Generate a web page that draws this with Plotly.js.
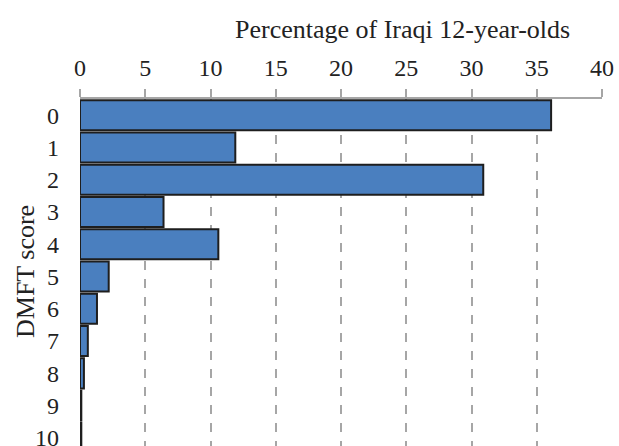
<!DOCTYPE html>
<html><head><meta charset="utf-8">
<script src="https://cdn.plot.ly/plotly-3.0.1.min.js"></script>
<style>html,body{margin:0;padding:0;background:#fff;}#c{width:619px;height:446px;}</style>
</head><body><div id="c"></div>
<script>
const categories = ["0","1","2","3","4","5","6","7","8","9","10"];
const percentages = [36.1, 11.9, 30.9, 6.4, 10.6, 2.2, 1.3, 0.6, 0.3, 0.1, 0.1];
const xTicks = [0,5,10,15,20,25,30,35,40];

const fam = "'Liberation Serif', 'Times New Roman', Times, serif";
const font = {family: fam, size: 24, color: "#222"};
const tfont = {family: fam, size: 26, color: "#222"};
Plotly.newPlot("c", [{
  type: "bar", orientation: "h",
  x: percentages, y: categories.map(Number),
  marker: {color: "#4a7fbf", line: {color: "#1e1e1e", width: 2}},
  hoverinfo: "none"
}], {
  width: 619, height: 446,
  margin: {l: 80, r: 17, t: 99, b: 0},
  paper_bgcolor: "#fff", plot_bgcolor: "#fff",
  font: font,
  bargap: 0.07,
  showlegend: false,
  xaxis: {
    side: "top", range: [0, 40], tickvals: xTicks, ticktext: xTicks.map(String),
    showgrid: true, gridcolor: "#a6a6a6", griddash: "dash", gridwidth: 2,
    showline: true, linecolor: "#a6a6a6", linewidth: 2,
    ticks: "outside", ticklen: 8, tickcolor: "#a6a6a6", tickwidth: 2,
    zeroline: false, tickfont: font, fixedrange: true, ticklabelstandoff: 3
  },
  yaxis: {
    range: [10.25, -0.5], tickvals: categories.map(Number), ticktext: categories,
    showgrid: false, zeroline: false, showline: false, ticks: "",
    ticklabelstandoff: 20, ticklabeloverflow: "allow",
    tickfont: font, fixedrange: true
  },
  annotations: [{
    text: "Percentage of Iraqi 12-year-olds", xref: "paper", yref: "paper",
    x: (402-80)/522, y: 1, yshift: 70, xanchor: "center", yanchor: "middle",
    showarrow: false, font: tfont
  }, {
    text: "DMFT score", xref: "paper", yref: "paper",
    x: (25-80)/522, y: 1 - (272-99)/347, textangle: -90,
    xanchor: "center", yanchor: "middle", showarrow: false, font: tfont
  }]
}, {displayModeBar: false, staticPlot: true});
</script></body></html>
